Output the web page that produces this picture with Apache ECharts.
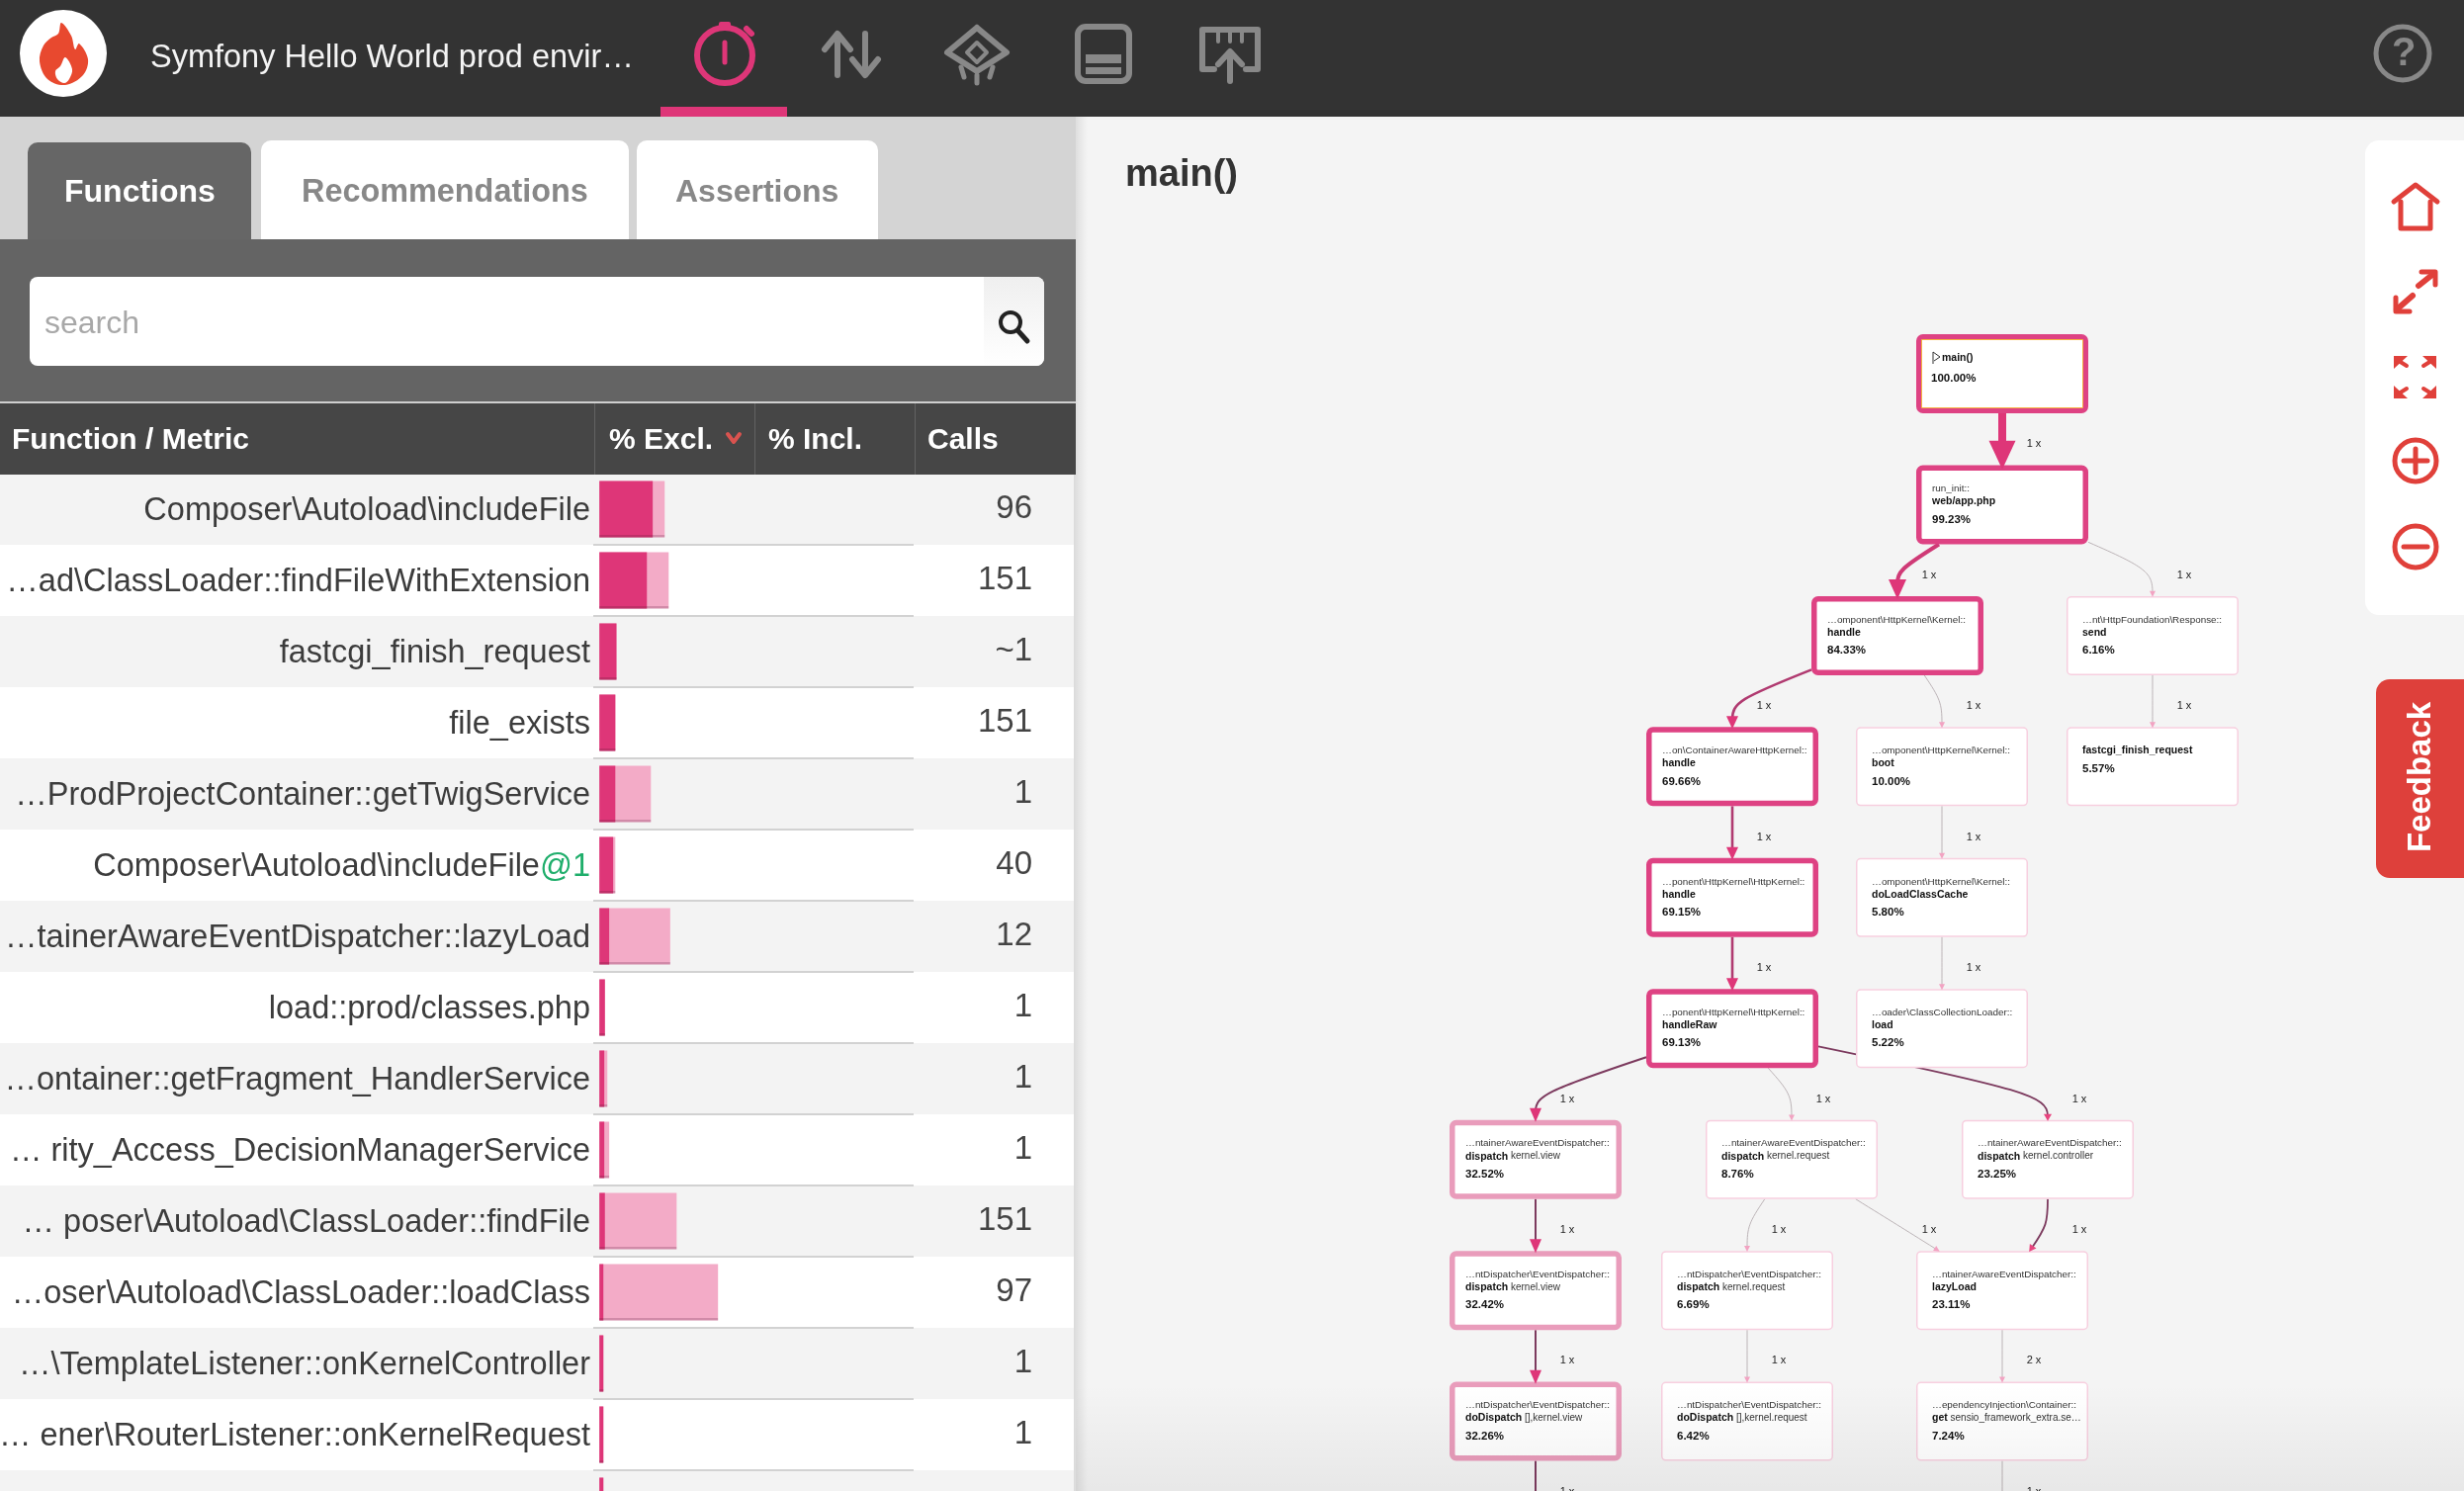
<!DOCTYPE html>
<html>
<head>
<meta charset="utf-8">
<title>main()</title>
<style>html,body{margin:0;padding:0;background:#f4f4f4}#main{width:2492px;height:1508px}</style>
<script src="https://cdn.jsdelivr.net/npm/echarts@6/dist/echarts.min.js"></script>
</head>
<body>
<div id="main"></div>
<script>
// function table
var functionNames = [
  'Composer\\Autoload\\includeFile', '…ad\\ClassLoader::findFileWithExtension', 'fastcgi_finish_request',
  'file_exists', '…ProdProjectContainer::getTwigService', 'Composer\\Autoload\\includeFile@1',
  '…tainerAwareEventDispatcher::lazyLoad', 'load::prod/classes.php', '…ontainer::getFragment_HandlerService',
  '… rity_Access_DecisionManagerService', '… poser\\Autoload\\ClassLoader::findFile', '…oser\\Autoload\\ClassLoader::loadClass',
  '…\\TemplateListener::onKernelController', '… ener\\RouterListener::onKernelRequest', ''
];
var callCounts = ['96', '151', '~1', '151', '1', '40', '12', '1', '1', '1', '151', '97', '1', '1', ''];
var exclPct = [17.4, 15.5, 5.57, 5.2, 5.2, 4.5, 3.2, 1.8, 1.6, 1.6, 1.8, 1.3, 1.3, 1.3, 1.3];
var inclPct = [21.3, 22.6, 5.57, 5.2, 16.8, 5.2, 23.11, 1.8, 2.6, 3.2, 25.2, 38.7, 1.3, 1.3, 1.3];

// call graph nodes
var nodeSpace = ['', 'run_init::', '…omponent\\HttpKernel\\Kernel::', '…nt\\HttpFoundation\\Response::',
  '…on\\ContainerAwareHttpKernel::', '…omponent\\HttpKernel\\Kernel::', '',
  '…ponent\\HttpKernel\\HttpKernel::', '…omponent\\HttpKernel\\Kernel::', '…ponent\\HttpKernel\\HttpKernel::',
  '…oader\\ClassCollectionLoader::', '…ntainerAwareEventDispatcher::', '…ntainerAwareEventDispatcher::',
  '…ntainerAwareEventDispatcher::', '…ntDispatcher\\EventDispatcher::', '…ntDispatcher\\EventDispatcher::',
  '…ntainerAwareEventDispatcher::', '…ntDispatcher\\EventDispatcher::', '…ntDispatcher\\EventDispatcher::',
  '…ependencyInjection\\Container::', '', ''];
var nodeMethod = ['main()', 'web/app.php', 'handle', 'send', 'handle', 'boot', 'fastcgi_finish_request', 'handle',
  'doLoadClassCache', 'handleRaw', 'load', 'dispatch', 'dispatch', 'dispatch', 'dispatch', 'dispatch', 'lazyLoad',
  'doDispatch', 'doDispatch', 'get', '', ''];
var nodeArg = ['', '', '', '', '', '', '', '', '', '', '', 'kernel.view', 'kernel.request', 'kernel.controller',
  'kernel.view', 'kernel.request', '', '[],kernel.view', '[],kernel.request', 'sensio_framework_extra.se…', '', ''];
var nodePct = [100, 99.23, 84.33, 6.16, 69.66, 10, 5.57, 69.15, 5.8, 69.13, 5.22, 32.52, 8.76, 23.25, 32.42, 6.69,
  23.11, 32.26, 6.42, 7.24, 32, 7];
var nodeCol = [0, 0, -1.06, 1.52, -2.73, -0.61, 1.52, -2.73, -0.61, -2.73, -0.61, -4.72, -2.13, 0.46, -4.72, -2.58,
  0, -4.72, -2.58, 0, -4.72, 0];
var nodeRow = [0, 1, 2, 2, 3, 3, 3, 4, 4, 5, 5, 6, 6, 6, 7, 7, 7, 8, 8, 8, 9, 9];

// call graph edges
var edgeFrom = [0, 1, 1, 2, 2, 3, 4, 5, 7, 8, 9, 9, 9, 11, 12, 12, 13, 14, 15, 16, 17, 19];
var edgeTo = [1, 2, 3, 4, 5, 6, 7, 8, 9, 10, 11, 12, 13, 14, 15, 16, 16, 17, 18, 19, 20, 21];
var edgeCalls = ['1 x', '1 x', '1 x', '1 x', '1 x', '1 x', '1 x', '1 x', '1 x', '1 x', '1 x', '1 x', '1 x', '1 x',
  '1 x', '1 x', '1 x', '1 x', '1 x', '2 x', '1 x', '1 x'];
// column the edge bends through, when it is not the target's own column
var edgeBend = { 15: -1.06, 16: 0.46 };

var FONT = '"Liberation Sans", Arial, sans-serif';
var NODE_W = 174, NODE_H = 80;
var PINK = '#de3678', RED = '#e0403a', GREY = '#888888';

function nodeStyle(pct) {
  if (pct >= 60) return { stroke: '#de4283', width: 5.5 };
  if (pct >= 30) return { stroke: '#e99cbb', width: 5.5 };
  return { stroke: '#f7cfdf', width: 1.5 };
}

function edgeStyle(pct) {
  if (pct >= 95) return { color: PINK, width: 8, arrow: [27, 29], head: PINK };
  if (pct >= 80) return { color: '#cf3a76', width: 4, arrow: [18, 20], head: PINK };
  if (pct >= 60) return { color: '#b03a70', width: 2.6, arrow: [12, 13], head: PINK };
  if (pct >= 30) return { color: '#7c3a5e', width: 2, arrow: [12, 14], head: PINK };
  if (pct >= 15) return { color: '#7c3a5e', width: 1.8, arrow: [8, 7], head: '#e8457f' };
  return { color: '#b5adb0', width: 0.9, arrow: [6, 6], head: '#f2a3c2' };
}

// point where the line from a box centre towards p leaves the box
function boxHit(c, p) {
  var dx = p[0] - c[0], dy = p[1] - c[1];
  var s = Math.min(dx ? (NODE_W / 2) / Math.abs(dx) : Infinity, dy ? (NODE_H / 2) / Math.abs(dy) : Infinity);
  return [c[0] + dx * s, c[1] + dy * s];
}

function edgeGeom(api) {
  var a = api.coord([api.value(0), api.value(1)]);
  var b = api.coord([api.value(2), api.value(3)]);
  var midY = (a[1] + b[1]) / 2;
  var via = [api.coord([api.value(4), 0])[0], midY];
  var start = boxHit(a, via), end = boxHit(b, via);
  var len = Math.sqrt(Math.pow(end[0] - via[0], 2) + Math.pow(end[1] - via[1], 2));
  var dir = [(end[0] - via[0]) / len, (end[1] - via[1]) / len];
  return { via: via, start: start, end: end, dir: dir, style: edgeStyle(api.value(5)), calls: api.value(6) };
}

function renderEdgeLine(params, api) {
  var g = edgeGeom(api), s = g.style;
  var back = s.arrow[1] * 0.6;
  var ex = g.end[0] - g.dir[0] * back, ey = g.end[1] - g.dir[1] * back;
  return {
    type: 'bezierCurve',
    shape: {
      x1: g.start[0], y1: g.start[1], x2: ex, y2: ey,
      cpx1: g.start[0] + (g.via[0] - g.start[0]) * 0.9, cpy1: g.start[1] + (g.via[1] - g.start[1]) * 0.9,
      cpx2: ex + (g.via[0] - ex) * 0.9, cpy2: ey + (g.via[1] - ey) * 0.9
    },
    style: { stroke: s.color, lineWidth: s.width, fill: null }
  };
}

function renderEdgeHead(params, api) {
  var g = edgeGeom(api), s = g.style;
  var w = s.arrow[0] / 2, h = s.arrow[1];
  var tip = [g.end[0] + g.dir[0] * h * 0.15, g.end[1] + g.dir[1] * h * 0.15];
  var bx = tip[0] - g.dir[0] * h, by = tip[1] - g.dir[1] * h;
  return {
    type: 'group',
    children: [{
      type: 'polygon',
      shape: { points: [tip, [bx - g.dir[1] * w, by + g.dir[0] * w], [bx + g.dir[1] * w, by - g.dir[0] * w]] },
      style: { fill: s.head }
    }, {
      type: 'text',
      style: {
        x: g.via[0] + 32, y: g.via[1] + 5, text: g.calls, fill: '#222',
        fontFamily: FONT, fontSize: 11, align: 'center', verticalAlign: 'middle'
      }
    }]
  };
}

function renderNode(params, api) {
  var i = api.value(2);
  var c = api.coord([api.value(0), api.value(1)]);
  var st = nodeStyle(nodePct[i]);
  var x = c[0] - NODE_W / 2, y = c[1] - NODE_H / 2, b = st.width;
  var tx = x + 16;
  var kids = [{
    type: 'rect',
    shape: { x: x + b / 2, y: y + b / 2, width: NODE_W - b, height: NODE_H - b, r: 4 },
    style: { fill: '#fff', stroke: st.stroke, lineWidth: b }
  }];
  var lineY = y + 24;
  var textAt = function (text, px, py, bold, size) {
    return {
      type: 'text',
      style: {
        x: px, y: py, text: text, fill: bold ? '#111' : '#333', fontFamily: FONT, fontSize: size,
        fontWeight: bold ? 'bold' : 'normal', verticalAlign: 'middle'
      }
    };
  };
  var pctText = nodePct[i].toFixed(2) + '%';
  if (i === 0) {
    // entry node: inner outline and the small play flag
    kids.push({
      type: 'rect',
      shape: { x: x + b, y: y + b, width: NODE_W - 2 * b, height: NODE_H - 2 * b },
      style: { fill: null, stroke: '#f5b342', lineWidth: 1 }
    });
    kids.push({
      type: 'polyline',
      shape: { points: [[tx + 1, lineY + 6], [tx + 1, lineY - 6], [tx + 8, lineY - 1], [tx + 2, lineY + 3]] },
      style: { fill: null, stroke: '#333', lineWidth: 1 }
    });
    kids.push(textAt(nodeMethod[i], tx + 10, lineY, true, 10.5));
    kids.push(textAt(pctText, tx - 1, lineY + 21, true, 11.5));
    return { type: 'group', children: kids };
  }
  if (nodeSpace[i]) {
    kids.push(textAt(nodeSpace[i], tx, lineY, false, 9.9));
    lineY += 13;
  }
  kids.push({
    type: 'text',
    style: {
      x: tx, y: lineY, text: '{b|' + nodeMethod[i] + '}' + (nodeArg[i] ? ' ' + nodeArg[i] : ''),
      fill: '#333', fontFamily: FONT, fontSize: 10, verticalAlign: 'middle',
      rich: { b: { fontWeight: 'bold', fill: '#111', fontFamily: FONT, fontSize: 10.5 } }
    }
  });
  kids.push(textAt(pctText, tx, lineY + 18, true, 11.5));
  return { type: 'group', children: kids };
}

// page chrome helpers
function box(x, y, w, h, fill, r, z) {
  return { type: 'rect', z: z, shape: { x: x, y: y, width: w, height: h, r: r || 0 }, style: { fill: fill } };
}
function label(text, x, y, font, fill, z, extra) {
  var el = { type: 'text', z: z, style: { x: x, y: y, text: text, font: font, fill: fill, align: 'left', verticalAlign: 'middle' } };
  return Object.assign(el, extra || {});
}
function stroke(points, color, width, z) {
  return { type: 'polyline', z: z, shape: { points: points }, style: { stroke: color, lineWidth: width, fill: null, lineCap: 'round', lineJoin: 'round' } };
}
function ring(cx, cy, r, color, width, z) {
  return { type: 'circle', z: z, shape: { cx: cx, cy: cy, r: r }, style: { fill: null, stroke: color, lineWidth: width } };
}
function fan(points, color, z) {
  return { type: 'polygon', z: z, shape: { points: points }, style: { fill: color } };
}
function hGrad(from, to) {
  return { type: 'linear', x: 0, y: 0, x2: 1, y2: 0, colorStops: [{ offset: 0, color: from }, { offset: 1, color: to }] };
}
function vGrad(from, to) {
  return { type: 'linear', x: 0, y: 0, x2: 0, y2: 1, colorStops: [{ offset: 0, color: from }, { offset: 1, color: to }] };
}
function barFill(main, edge) {
  return {
    type: 'linear', x: 0, y: 0, x2: 0, y2: 1,
    colorStops: [{ offset: 0, color: main }, { offset: 0.95, color: main }, { offset: 0.95, color: edge }, { offset: 1, color: edge }]
  };
}

var Z = 10;
var chrome = [
  // top bar
  box(0, 0, 2492, 118, '#333333', 0, Z),
  box(668, 108, 128, 10, PINK, 0, Z + 1),
  { type: 'circle', z: Z + 1, shape: { cx: 64, cy: 54, r: 44 }, style: { fill: '#fff' } },
  { type: 'polygon', z: Z + 2, shape: { smooth: 0.35, points: [[62, 23], [72, 36], [76, 50], [80, 44], [89, 60], [84, 76], [66, 86], [48, 80], [40, 62], [44, 46], [52, 38], [59, 34]] }, style: { fill: '#e8492f' } },
  { type: 'polygon', z: Z + 3, shape: { smooth: 0.35, points: [[66, 58], [73, 70], [70, 80], [65, 84], [58, 80], [56, 72], [61, 67]] }, style: { fill: '#fff' } },
  label('Symfony Hello World prod envir…', 152, 59, '32.5px ' + FONT, '#f4f4f4', Z + 1),
  ring(733, 56, 28, PINK, 6, Z + 1),
  box(727, 22, 12, 6, PINK, 2, Z + 1),
  stroke([[755, 29], [760, 34]], PINK, 6, Z + 1),
  stroke([[733, 43], [733, 63]], PINK, 5, Z + 1),
  stroke([[847, 76], [847, 36]], GREY, 6, Z + 1),
  stroke([[834, 50], [847, 34], [860, 50]], GREY, 6, Z + 1),
  stroke([[875, 34], [875, 74]], GREY, 6, Z + 1),
  stroke([[862, 60], [875, 76], [888, 60]], GREY, 6, Z + 1),
  stroke([[988, 28], [1018, 53], [988, 72], [958, 53], [988, 28]], GREY, 6, Z + 1),
  stroke([[988, 43], [998, 53], [988, 63], [978, 53], [988, 43]], GREY, 4, Z + 1),
  stroke([[972, 68], [975, 78]], GREY, 5, Z + 1),
  stroke([[988, 76], [988, 84]], GREY, 5, Z + 1),
  stroke([[1004, 68], [1001, 78]], GREY, 5, Z + 1),
  { type: 'rect', z: Z + 1, shape: { x: 1090, y: 27, width: 52, height: 55, r: 8 }, style: { fill: null, stroke: GREY, lineWidth: 6 } },
  box(1098, 55, 36, 9, GREY, 0, Z + 1),
  box(1098, 68, 36, 7, GREY, 0, Z + 1),
  stroke([[1228, 70], [1216, 70], [1216, 30], [1272, 30], [1272, 70], [1260, 70]], GREY, 6, Z + 1),
  stroke([[1232, 30], [1232, 42]], GREY, 4, Z + 1),
  stroke([[1244, 30], [1244, 42]], GREY, 4, Z + 1),
  stroke([[1256, 30], [1256, 42]], GREY, 4, Z + 1),
  stroke([[1244, 82], [1244, 54]], GREY, 6, Z + 1),
  stroke([[1232, 65], [1244, 52], [1256, 65]], GREY, 6, Z + 1),
  ring(2430, 54, 27, GREY, 5, Z + 1),
  label('?', 2419, 55, 'bold 40px ' + FONT, GREY, Z + 1),
  // left panel head
  box(0, 118, 1088, 124, '#d4d4d4', 0, Z),
  box(28, 144, 226, 98, '#666666', [10, 10, 0, 0], Z + 1),
  box(264, 142, 372, 100, '#ffffff', [10, 10, 0, 0], Z + 1),
  box(644, 142, 244, 100, '#ffffff', [10, 10, 0, 0], Z + 1),
  label('Functions', 65, 195, 'bold 32px ' + FONT, '#ffffff', Z + 2),
  label('Recommendations', 305, 195, 'bold 32.4px ' + FONT, '#888888', Z + 2),
  label('Assertions', 683, 195, 'bold 32px ' + FONT, '#888888', Z + 2),
  box(0, 242, 1088, 164, '#646464', 0, Z),
  box(30, 280, 1026, 90, '#ffffff', 8, Z + 1),
  box(995, 280, 61, 90, vGrad('#efefef', '#ffffff'), [0, 8, 8, 0], Z + 2),
  label('search', 45, 328, '32px ' + FONT, '#a8a8a8', Z + 3),
  ring(1022, 326, 10, '#222222', 4, Z + 3),
  stroke([[1030, 335], [1039, 345]], '#222222', 5, Z + 3),
  // table head
  box(0, 406, 1088, 2, '#cfcfcf', 0, Z),
  box(0, 408, 1088, 72, '#464646', 0, Z),
  box(601, 408, 1, 72, '#626262', 0, Z + 1),
  box(763, 408, 1, 72, '#626262', 0, Z + 1),
  box(925, 408, 1, 72, '#626262', 0, Z + 1),
  label('Function / Metric', 12, 446, 'bold 30px ' + FONT, '#ffffff', Z + 2),
  label('% Excl.', 616, 446, 'bold 30px ' + FONT, '#ffffff', Z + 2),
  stroke([[736, 439], [742, 447], [748, 439]], '#d9534f', 4, Z + 2),
  label('% Incl.', 777, 446, 'bold 30px ' + FONT, '#ffffff', Z + 2),
  label('Calls', 938, 446, 'bold 30px ' + FONT, '#ffffff', Z + 2),
  box(1086, 118, 14, 1390, hGrad('rgba(0,0,0,0.1)', 'rgba(0,0,0,0)'), 0, Z - 1),
  // right side
  label('main()', 1138, 178, 'bold 38px ' + FONT, '#333333', Z),
  box(2392, 142, 100, 480, '#ffffff', [14, 0, 0, 14], Z),
  stroke([[2421, 204], [2443, 187], [2465, 204]], RED, 5, Z + 1),
  stroke([[2428, 204], [2428, 231], [2458, 231], [2458, 204]], RED, 5, Z + 1),
  stroke([[2446, 289], [2461, 277]], RED, 6, Z + 1),
  stroke([[2449, 275], [2463, 275], [2463, 288]], RED, 5, Z + 1),
  stroke([[2440, 299], [2424, 313]], RED, 6, Z + 1),
  stroke([[2423, 301], [2423, 315], [2437, 315]], RED, 5, Z + 1),
  fan([[2421, 360], [2435, 360], [2421, 373]], RED, Z + 1),
  stroke([[2426, 365], [2434, 370]], RED, 4, Z + 1),
  fan([[2464, 360], [2450, 360], [2464, 373]], RED, Z + 1),
  stroke([[2459, 365], [2451, 370]], RED, 4, Z + 1),
  fan([[2421, 403], [2435, 403], [2421, 390]], RED, Z + 1),
  stroke([[2426, 398], [2434, 393]], RED, 4, Z + 1),
  fan([[2464, 403], [2450, 403], [2464, 390]], RED, Z + 1),
  stroke([[2459, 398], [2451, 393]], RED, 4, Z + 1),
  ring(2443, 466, 21, RED, 5, Z + 1),
  stroke([[2431, 466], [2455, 466]], RED, 5, Z + 1),
  stroke([[2443, 454], [2443, 478]], RED, 5, Z + 1),
  ring(2443, 553, 21, RED, 5, Z + 1),
  stroke([[2431, 553], [2455, 553]], RED, 5, Z + 1),
  box(2403, 687, 89, 201, '#de403b', [14, 0, 0, 14], Z),
  {
    type: 'text', z: Z + 1, x: 2449, y: 786, rotation: Math.PI / 2,
    style: { text: 'Feedback', font: 'bold 33px ' + FONT, fill: '#ffffff', align: 'center', verticalAlign: 'middle' }
  },
  // soft fade at the window bottom
  box(1088, 1400, 1404, 108, vGrad('rgba(0,0,0,0)', 'rgba(0,0,0,0.05)'), 0, 30)
];

function edgeRows() {
  return edgeFrom.map(function (f, i) {
    var to = edgeTo[i];
    return [nodeCol[f], nodeRow[f], nodeCol[to], nodeRow[to],
      edgeBend[i] !== undefined ? edgeBend[i] : nodeCol[to], Math.min(nodePct[f], nodePct[to]), edgeCalls[i]];
  });
}

var myChart = echarts.init(document.getElementById('main'));
var option = {
  backgroundColor: '#f4f4f4',
  animation: false,
  textStyle: { fontFamily: FONT },
  graphic: { elements: chrome },
  grid: [
    { left: 600, top: 479, width: 324, height: 1080, outerBoundsMode: 'none' },
    { left: 0, top: 479, width: 1086, height: 1080, outerBoundsMode: 'none' },
    { left: 1125, top: 113.1, width: 1360, height: 1589.4, outerBoundsMode: 'none' }
  ],
  xAxis: [
    { gridIndex: 0, type: 'value', min: -2, max: 102.5, show: false },
    { gridIndex: 1, type: 'value', min: 0, max: 1, show: false },
    { gridIndex: 2, type: 'value', min: -9, max: 4.6, show: false }
  ],
  yAxis: [
    {
      gridIndex: 1, type: 'category', inverse: true, position: 'right', data: callCounts,
      axisLine: { show: false }, axisTick: { show: false },
      splitArea: { show: true, interval: 0, areaStyle: { color: ['#f3f3f3', '#ffffff'] } },
      axisLabel: { inside: true, margin: 42, interval: 0, fontSize: 33, color: '#444444', fontFamily: FONT, padding: [4, 0, 0, 0] }
    },
    {
      gridIndex: 0, type: 'category', inverse: true, data: functionNames,
      axisLine: { show: false }, axisTick: { show: false },
      splitLine: { show: true, interval: 0, lineStyle: { color: '#d2d2d2', width: 2 } },
      axisLabel: {
        margin: 3, interval: 0, fontSize: 32.5, color: '#3c3c3c', fontFamily: FONT, padding: [4, 0, 0, 0],
        formatter: function (v) {
          return v.slice(-2) === '@1' ? '{n|' + v.slice(0, -2) + '}{g|@1}' : v;
        },
        rich: {
          n: { fontSize: 32.5, color: '#3c3c3c', fontFamily: FONT },
          g: { fontSize: 32.5, color: '#1fae6b', fontFamily: FONT }
        }
      }
    },
    { gridIndex: 2, type: 'value', inverse: true, min: -2, max: 10, show: false }
  ],
  series: [
    {
      name: '% Incl.', type: 'bar', xAxisIndex: 0, yAxisIndex: 1, data: inclPct, barWidth: 57, barGap: '-100%',
      itemStyle: { color: barFill('#f3abc7', '#d18aa8') }, silent: true, z: 3
    },
    {
      name: '% Excl.', type: 'bar', xAxisIndex: 0, yAxisIndex: 1, data: exclPct, barWidth: 57, barGap: '-100%',
      itemStyle: { color: barFill(PINK, '#bf2f68') }, silent: true, z: 4
    },
    {
      type: 'custom', xAxisIndex: 2, yAxisIndex: 2, silent: true, clip: false, z: 3, renderItem: renderEdgeLine,
      encode: { x: [0, 2], y: [1, 3] }, data: edgeRows()
    },
    {
      type: 'custom', xAxisIndex: 2, yAxisIndex: 2, silent: true, clip: false, z: 4, renderItem: renderNode,
      encode: { x: 0, y: 1 },
      data: nodeCol.map(function (c, i) { return [c, nodeRow[i], i]; })
    },
    {
      type: 'custom', xAxisIndex: 2, yAxisIndex: 2, silent: true, clip: false, z: 5, renderItem: renderEdgeHead,
      encode: { x: [0, 2], y: [1, 3] }, data: edgeRows()
    }
  ]
};
myChart.setOption(option);
</script>
</body>
</html>
